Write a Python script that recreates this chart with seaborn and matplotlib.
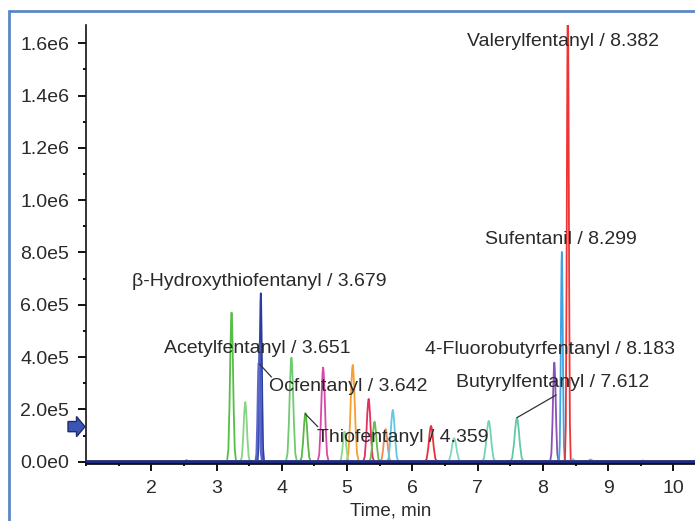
import matplotlib
matplotlib.use("Agg")
import matplotlib.pyplot as plt
from matplotlib.patches import Polygon
from matplotlib.lines import Line2D
from matplotlib.ticker import FixedLocator, MultipleLocator
import seaborn as sns
import pandas as pd

# ---------------- data ----------------
PEAK_NAMES = [
    "p3.23", "p3.44", "beta-Hydroxythiofentanyl", "Acetylfentanyl", "Ocfentanyl",
    "p4.15", "Thiofentanyl", "p4.63", "p5.09", "p5.33", "p4.96", "p5.42",
    "p5.59", "p5.70", "p6.29", "p6.64", "p7.17", "Butyrylfentanyl",
    "4-Fluorobutyrfentanyl", "Sufentanil", "Valerylfentanyl",
    "s2.54", "s8.46", "s8.73", "s9.28", "s9.53",
]
PEAK_RT = [3.23, 3.44, 3.678, 3.66, 3.645,
           4.147, 4.362, 4.633, 5.086, 5.33, 4.96, 5.42,
           5.59, 5.70, 6.286, 6.64, 7.17, 7.602,
           8.175, 8.29, 8.382,
           2.54, 8.46, 8.73, 9.28, 9.53]
PEAK_HEIGHT = [5.70e5, 2.28e5, 6.44e5, 4.54e5, 3.77e5,
               3.98e5, 1.86e5, 3.60e5, 3.70e5, 2.40e5, 1.15e5, 1.53e5,
               1.25e5, 1.98e5, 1.37e5, 0.90e5, 1.56e5, 1.68e5,
               3.79e5, 8.02e5, 1.75e6,
               0.05e5, 0.10e5, 0.08e5, 0.03e5, 0.05e5]
PEAK_HALFWIDTH = [0.07, 0.075, 0.05, 0.05, 0.05,
                  0.085, 0.085, 0.085, 0.095, 0.085, 0.075, 0.085,
                  0.085, 0.09, 0.095, 0.105, 0.105, 0.105,
                  0.065, 0.045, 0.045,
                  0.05, 0.05, 0.08, 0.04, 0.04]
# normalised peak profile read from a typical peak (offset in half-widths, relative level)
PROFILE_OFFSET = [-1.0, -0.7, -0.45, -0.25, -0.1, 0.0, 0.1, 0.25, 0.45, 0.7, 1.0]
PROFILE_LEVEL = [0.0, 0.08, 0.38, 0.75, 0.95, 1.0, 0.95, 0.75, 0.38, 0.08, 0.0]

X_TICKS = [2, 3, 4, 5, 6, 7, 8, 9, 10]
Y_TICKS = [0, 2e5, 4e5, 6e5, 8e5, 1.0e6, 1.2e6, 1.4e6, 1.6e6]
Y_TICK_LABELS = ["0.0e0", "2.0e5", "4.0e5", "6.0e5", "8.0e5",
                 "1.0e6", "1.2e6", "1.4e6", "1.6e6"]

LABEL_TEXTS = ["Valerylfentanyl / 8.382", "Sufentanil / 8.299",
               "\u03b2-Hydroxythiofentanyl / 3.679", "Acetylfentanyl / 3.651",
               "Ocfentanyl / 3.642", "Thiofentanyl / 4.359",
               "4-Fluorobutyrfentanyl / 8.183", "Butyrylfentanyl / 7.612"]

# ---------------- style / layout ----------------
PEAK_COLORS = ["#55be45", "#86d486", "#2b3c9e", "#4858c2", "#5a68c8",
               "#6fcb6f", "#58b846", "#d848a8", "#f5a032", "#e23060", "#8ad88a", "#63c048",
               "#f08a55", "#62c8e2", "#e8303c", "#80d8c0", "#72d2b8", "#62c8a8",
               "#8a52b8", "#40a2e2", "#f03434",
               "#2b3c9e", "#72d2b8", "#6fcb6f", "#f5a032", "#f5a032"]
LABEL_POS = [(6.842, 1.606e6), (7.117, 8.48e5), (1.709, 6.883e5), (2.193, 4.31e5),
             (3.80, 2.857e5), (4.541, 0.933e5), (6.199, 4.272e5), (6.673, 3.021e5)]
LEADERS = [((3.658, 3.736e5), (3.841, 3.239e5)),
           ((4.362, 1.821e5), (4.551, 1.338e5)),
           ((7.602, 1.683e5), (8.204, 2.551e5))]
XMIN, XMAX = 1.0, 10.33
YMIN, YMAX = -5e3, 1.67e6

sns.set_theme(style="ticks")
plt.rcParams["font.family"] = ["Liberation Sans", "DejaVu Sans"]

rows = []
for name, rt, h, hw in zip(PEAK_NAMES, PEAK_RT, PEAK_HEIGHT, PEAK_HALFWIDTH):
    rows.append((name, XMIN, 0.0))
    for o, lv in zip(PROFILE_OFFSET, PROFILE_LEVEL):
        rows.append((name, rt + o * hw, h * lv))
    rows.append((name, XMAX, 0.0))
df = pd.DataFrame(rows, columns=["trace", "time", "intensity"])
palette = dict(zip(PEAK_NAMES, PEAK_COLORS))

W, H = 695, 521
fig = plt.figure(figsize=(6.95, 5.21), dpi=100)
ax = fig.add_axes([86 / W, 1 - 463 / H, (W - 86) / W, (463 - 25) / H])

sns.lineplot(data=df, x="time", y="intensity", hue="trace", palette=palette,
             estimator=None, sort=False, legend=False, linewidth=1.3, ax=ax)
ax.axhline(0, color="#1c2a86", lw=2.6, zorder=5)

ax.set_xlim(XMIN, XMAX)
ax.set_ylim(YMIN, YMAX)
ax.xaxis.set_major_locator(FixedLocator(X_TICKS))
ax.set_xticklabels([str(v) for v in X_TICKS])
ax.xaxis.set_minor_locator(MultipleLocator(0.5))
ax.yaxis.set_major_locator(FixedLocator(Y_TICKS))
ax.set_yticklabels(Y_TICK_LABELS)
ax.yaxis.set_minor_locator(MultipleLocator(1e5))

for s in ["top", "right"]:
    ax.spines[s].set_visible(False)
ax.spines["left"].set_color("#111111")
ax.spines["left"].set_linewidth(1.2)
ax.spines["bottom"].set_color("#111111")
ax.spines["bottom"].set_linewidth(2.0)

ax.tick_params(axis="both", which="major", length=6, width=1.4, color="#111111",
               labelsize=14, labelcolor="#2a2a2a", pad=6)
ax.tick_params(axis="both", which="minor", length=2, width=1.4, color="#111111")
ax.set_xlabel("Time, min", fontsize=13.5, color="#2a2a2a", labelpad=4)
ax.set_ylabel("")

for txt, (x, y) in zip(LABEL_TEXTS, LABEL_POS):
    ax.text(x, y, txt, fontsize=14, color="#2a2a2a", ha="left", va="center", zorder=6)
for (x0, y0), (x1, y1) in LEADERS:
    ax.plot([x0, x1], [y0, y1], color="#333333", lw=0.9, zorder=6)

# decorative frame (top and left) and the arrow marker
fig.add_artist(Line2D([9 / W, 9 / W], [0, 1 - 11 / H], color="#5b87c4", lw=2.0))
fig.add_artist(Line2D([9 / W, 1], [1 - 11 / H, 1 - 11 / H], color="#5b87c4", lw=2.0))
arrow_px = [(68, 421.5), (76.5, 421.5), (76.5, 416.5), (85, 426.7),
            (76.5, 436.7), (76.5, 431.7), (68, 431.7)]
fig.add_artist(Polygon([(x / W, 1 - y / H) for x, y in arrow_px], closed=True,
                       facecolor="#3a56b2", edgecolor="#1f2d6e", lw=1.0,
                       transform=fig.transFigure))

fig.savefig("out.png", dpi=100)
